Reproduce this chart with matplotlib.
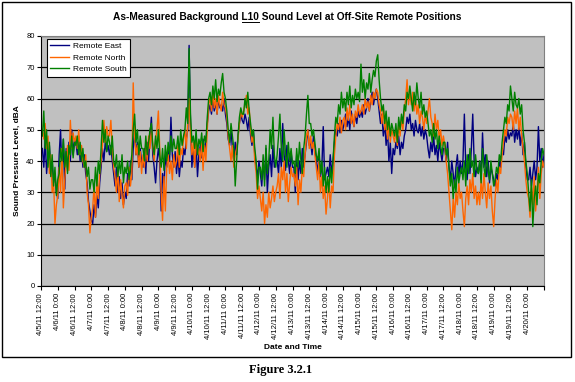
import numpy as np
import pandas as pd
import matplotlib
matplotlib.use("Agg")
import matplotlib.pyplot as plt
from matplotlib.patches import Rectangle
from matplotlib.lines import Line2D

plt.rcParams['font.family'] = ['Liberation Sans', 'DejaVu Sans']

# hourly L10 values, one row per 12 hours, starting 4/5/11 13:00
east = [
    44, 38, 47, 36, 42, 45, 37, 40, 33, 36, 30, 28,
    42, 50, 36, 47, 31, 44, 38, 46, 40, 50, 42, 47,
    46, 42, 48, 40, 44, 38, 42, 36, 33, 27, 24, 21,
    20, 26, 22, 29, 25, 33, 38, 44, 40, 46, 43, 45,
    42, 45, 40, 36, 32, 38, 30, 35, 28, 33, 26, 30,
    28, 36, 32, 40, 34, 44, 50, 42, 46, 38, 44, 40,
    38, 44, 36, 46, 40, 48, 54, 42, 38, 33, 40, 44,
    40, 24, 36, 32, 42, 38, 44, 40, 54, 42, 38, 43,
    36, 42, 35, 40, 38, 44, 42, 47, 50, 77, 52, 38,
    44, 38, 46, 35, 42, 45, 41, 47, 43, 46, 52, 56,
    58, 55, 60, 56, 59, 55, 60, 57, 58, 56, 60, 55,
    52, 47, 45, 50, 44, 40, 46, 42, 48, 52, 55, 53,
    52, 55, 53, 50, 54, 48, 45, 50, 42, 38, 35, 40,
    36, 32, 40, 34, 44, 30, 38, 42, 35, 45, 38, 40,
    40, 36, 44, 38, 52, 42, 37, 45, 40, 36, 43, 38,
    38, 30, 42, 34, 40, 36, 44, 38, 42, 46, 50, 45,
    46, 42, 48, 44, 40, 36, 42, 35, 38, 51, 34, 36,
    38, 35, 42, 36, 40, 46, 50, 48, 52, 49, 53, 50,
    52, 55, 51, 54, 50, 56, 53, 51, 55, 52, 56, 54,
    56, 54, 58, 55, 57, 60, 56, 59, 62, 58, 61, 63,
    60, 56, 52, 55, 48, 52, 45, 50, 40, 46, 36, 44,
    42, 46, 44, 48, 42, 46, 44, 48, 50, 54, 52, 55,
    50, 52, 48, 53, 50, 49, 52, 48, 51, 47, 50, 48,
    44, 41, 46, 43, 48, 42, 45, 40, 46, 43, 40, 44,
    44, 40, 46, 38, 34, 40, 36, 32, 38, 42, 35, 40,
    36, 40, 55, 38, 34, 42, 36, 44, 55, 40, 35, 38,
    36, 40, 34, 49, 38, 42, 35, 40, 33, 38, 36, 34,
    32, 36, 34, 40, 38, 44, 42, 48, 46, 50, 47, 49,
    48, 52, 46, 50, 47, 51, 45, 49, 42, 46, 38, 34,
    34, 38, 32, 36, 40, 34, 38, 51, 40, 44, 38, 42,
]
north = [
    50, 47, 52, 44, 48, 36, 42, 30, 34, 20, 26, 29,
    38, 30, 44, 25, 34, 40, 45, 37, 53, 44, 49, 46,
    48, 44, 50, 42, 45, 40, 38, 42, 30, 26, 17, 22,
    25, 32, 22, 34, 28, 36, 40, 45, 53, 46, 51, 48,
    48, 53, 44, 38, 35, 30, 38, 27, 34, 29, 25, 32,
    33, 29, 38, 32, 36, 65, 48, 42, 45, 38, 43, 36,
    42, 38, 46, 40, 48, 44, 50, 45, 40, 47, 50, 56,
    44, 30, 21, 35, 24, 38, 42, 36, 40, 34, 42, 38,
    40, 45, 38, 44, 42, 47, 50, 44, 52, 60, 48, 42,
    46, 38, 48, 42, 44, 40, 46, 37, 45, 40, 50, 58,
    60, 56, 62, 57, 60, 55, 61, 58, 56, 62, 58, 57,
    54, 48, 44, 40, 45, 38, 42, 44, 47, 52, 56, 54,
    56, 58, 61, 55, 57, 50, 46, 48, 40, 36, 28, 32,
    28, 24, 30, 20, 26, 22, 30, 25, 28, 32, 27, 30,
    32, 36, 28, 38, 34, 40, 30, 36, 27, 33, 38, 35,
    36, 32, 38, 26, 34, 30, 38, 35, 42, 48, 50, 44,
    48, 44, 46, 42, 38, 34, 40, 30, 35, 28, 32, 23,
    28, 34, 25, 32, 30, 42, 48, 52, 50, 54, 49, 53,
    54, 50, 57, 53, 58, 52, 55, 51, 56, 54, 58, 55,
    56, 58, 55, 60, 57, 59, 56, 61, 58, 62, 60, 63,
    62, 58, 56, 52, 57, 50, 54, 47, 52, 46, 50, 48,
    46, 50, 45, 52, 48, 54, 50, 56, 60, 66, 58, 62,
    58, 62, 56, 60, 55, 58, 52, 56, 54, 50, 55, 52,
    56, 60, 54, 52, 48, 55, 50, 53, 47, 50, 45, 48,
    45, 40, 36, 30, 24, 18, 28, 22, 30, 26, 33, 28,
    30, 24, 19, 28, 32, 26, 34, 30, 36, 28, 32, 26,
    30, 26, 34, 28, 36, 30, 25, 33, 28, 32, 24, 19,
    28, 34, 30, 38, 36, 42, 46, 50, 48, 54, 52, 55,
    54, 50, 56, 52, 57, 50, 54, 48, 44, 40, 34, 30,
    28, 22, 32, 26, 35, 24, 30, 38, 28, 36, 40, 38,
]
south = [
    48, 56, 44, 50, 38, 46, 35, 42, 32, 38, 29, 34,
    36, 44, 40, 47, 38, 43, 36, 45, 42, 48, 41, 46,
    45, 48, 42, 46, 40, 44, 38, 40, 35, 38, 31, 34,
    34, 30, 38, 32, 40, 36, 44, 53, 46, 50, 43, 48,
    46, 42, 48, 40, 38, 42, 35, 40, 36, 42, 33, 38,
    36, 40, 34, 38, 42, 50, 55, 46, 50, 42, 48, 44,
    44, 40, 48, 42, 46, 50, 52, 45, 42, 48, 44, 50,
    42, 38, 44, 37, 45, 40, 46, 42, 48, 43, 47, 44,
    44, 48, 42, 50, 45, 48, 50, 57, 52, 76, 55, 46,
    48, 44, 50, 42, 47, 45, 49, 43, 48, 46, 54, 60,
    62, 58, 64, 60, 66, 59, 63, 61, 65, 68, 62, 60,
    56, 50, 46, 52, 48, 44, 32, 40, 48, 54, 57, 55,
    55, 60, 57, 62, 56, 52, 48, 50, 44, 40, 31, 38,
    38, 34, 42, 32, 45, 36, 40, 50, 44, 54, 42, 38,
    42, 48, 55, 44, 40, 50, 42, 38, 46, 40, 44, 39,
    40, 36, 44, 38, 46, 40, 36, 44, 48, 55, 61, 52,
    52, 48, 50, 46, 42, 40, 44, 36, 40, 32, 38, 30,
    35, 30, 38, 33, 40, 48, 54, 52, 58, 55, 62, 57,
    60, 56, 62, 58, 64, 57, 61, 58, 63, 60, 62, 59,
    71, 62, 66, 60, 65, 63, 68, 62, 66, 69, 67, 72,
    74, 66, 60, 56, 58, 52, 56, 50, 54, 48, 52, 50,
    48, 52, 46, 54, 50, 55, 52, 58, 56, 62, 60, 64,
    60, 56, 62, 58, 65, 60, 57, 62, 55, 58, 54, 56,
    52, 48, 50, 46, 52, 47, 50, 44, 48, 45, 42, 46,
    46, 42, 44, 38, 32, 36, 28, 34, 30, 38, 33, 36,
    38, 34, 40, 32, 42, 36, 44, 38, 40, 35, 42, 37,
    36, 40, 33, 44, 38, 35, 42, 37, 34, 40, 36, 32,
    34, 38, 36, 42, 40, 46, 50, 54, 52, 58, 56, 64,
    60, 56, 62, 58, 57, 60, 55, 58, 50, 46, 40, 36,
    30, 24, 34, 19, 28, 32, 26, 36, 33, 40, 44, 42,
]

times = pd.date_range("2011-04-05 13:00", periods=len(east), freq="h")
tick_times = pd.date_range("2011-04-05 12:00", "2011-04-20 12:00", freq="12h")
tick_labels = [f"{d.month}/{d.day}/11 {d.hour}:00" for d in tick_times[:-1]] + ['']

fig = plt.figure(figsize=(5.75, 3.82), dpi=100)
ax = fig.add_axes([41 / 575, 1 - 286 / 382, 503 / 575, 250 / 382])
ax.set_facecolor('#C0C0C0')

ax.plot(times, east, color='#000080', lw=1.0, label='Remote East')
ax.plot(times, north, color='#FF6600', lw=1.0, label='Remote North')
ax.plot(times, south, color='#008000', lw=1.0, label='Remote South')

ax.set_ylim(0, 80)
ax.set_yticks(np.arange(0, 81, 10))
ax.grid(axis='y', color='black', lw=0.9)
ax.set_axisbelow(True)
ax.set_xlim(pd.Timestamp("2011-04-05 12:00"), pd.Timestamp("2011-04-20 12:00"))
ax.set_xticks(tick_times)
ax.set_xticklabels(tick_labels, rotation=90, fontsize=5.5)
ax.tick_params(axis='y', labelsize=5.5, length=3, width=0.8, pad=1.5)
ax.tick_params(axis='x', length=3, width=0.8, pad=2)

for s in ['top', 'right']:
    ax.spines[s].set_color('#808080')
ax.spines['left'].set_color('black')
ax.spines['bottom'].set_color('black')

ax.set_ylabel('Sound Pressure Level, dBA', fontsize=6, fontweight='bold', labelpad=4)
ax.set_xlabel('Date and Time', fontsize=6, fontweight='bold', labelpad=4)

leg = ax.legend(loc='upper left', bbox_to_anchor=(0.011, 0.988), fontsize=6,
                fancybox=False, framealpha=1, edgecolor='black', handlelength=2.3,
                borderpad=0.4, labelspacing=0.45, handletextpad=0.5, borderaxespad=0)
leg.get_frame().set_linewidth(0.8)
for line in leg.get_lines():
    line.set_linewidth(1.0)

# title with underlined "L10"
title_str = 'As-Measured Background L10 Sound Level at Off-Site Remote Positions'
tsize = 7.3
ty = 1 - 17 / 382
title = fig.text(0.5, ty, title_str, ha='center', va='center', fontsize=tsize, fontweight='bold')
renderer = fig.canvas.get_renderer()
full_bb = title.get_window_extent(renderer)
probe = fig.text(0, 0, 'As-Measured Background L10', fontsize=tsize, fontweight='bold')
w2 = probe.get_window_extent(renderer).width
probe.set_text('L10')
w1 = probe.get_window_extent(renderer).width
probe.remove()
W, H = fig.bbox.width, fig.bbox.height
ux0 = (full_bb.x0 + w2 - w1) / W
ux1 = (full_bb.x0 + w2) / W
uy = (full_bb.y0 + 0.5) / H
fig.add_artist(Line2D([ux0, ux1], [uy, uy], transform=fig.transFigure, color='black', lw=0.7))

fig.patches.append(Rectangle((2 / 575, 1 - 357 / 382), 569 / 575, 355 / 382,
                             transform=fig.transFigure, fill=False, edgecolor='black', lw=1))

fig.text(281 / 575, 1 - 370 / 382, 'Figure 3.2.1', ha='center', va='center',
         fontsize=9, fontweight='bold', family=['Liberation Serif', 'DejaVu Serif'])

fig.savefig('out.png', dpi=100)
